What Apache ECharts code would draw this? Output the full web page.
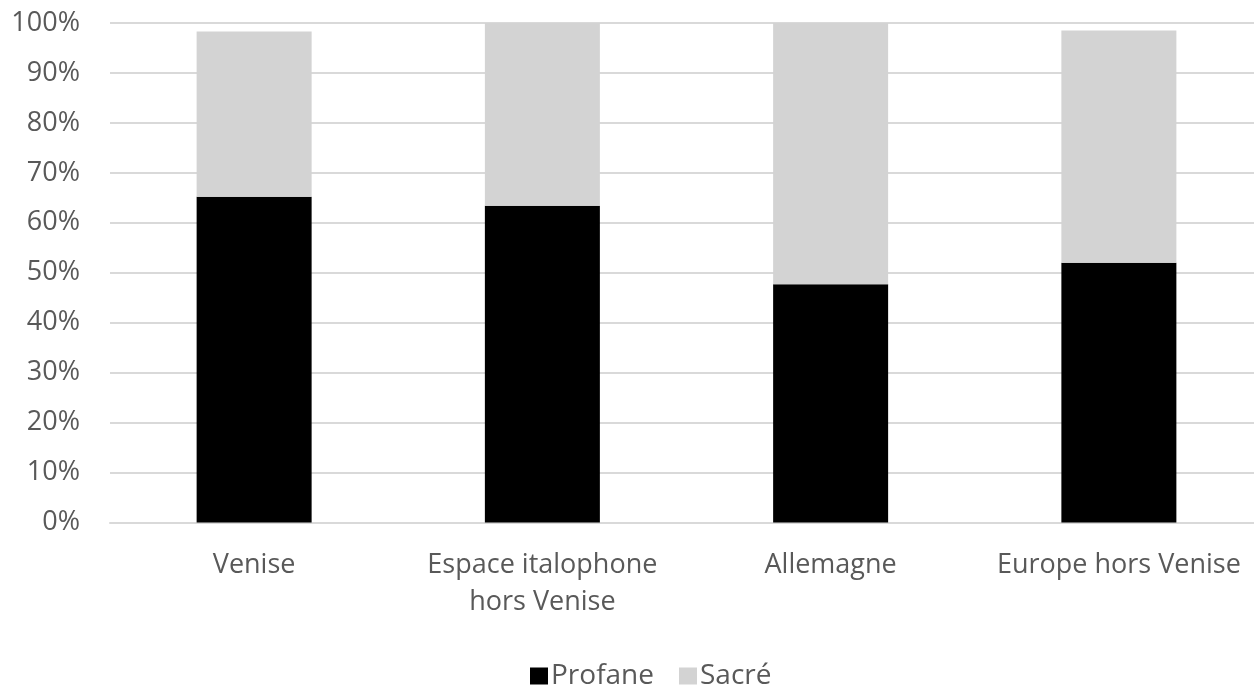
<!DOCTYPE html>
<html>
<head>
<meta charset="utf-8">
<script src="https://cdn.jsdelivr.net/npm/echarts@6/dist/echarts.min.js"></script>
<style>
html,body{margin:0;padding:0;background:#fff;}
#chart{width:1254px;height:686px;}
</style>
</head>
<body>
<div id="chart"></div>
<script>
const categories = ['Venise', 'Espace italophone\nhors Venise', 'Allemagne', 'Europe hors Venise'];
const profane = [65.2, 63.4, 47.7, 52.0];
const sacre = [33.1, 36.6, 52.3, 46.5];
const seriesNames = ['Profane', 'Sacré'];

const FONT = '"Open Sans", sans-serif';
const TXT = '#595959';

const chart = echarts.init(document.getElementById('chart'), null, {renderer: 'canvas'});
chart.setOption({
  animation: false,
  backgroundColor: '#ffffff',
  textStyle: {fontFamily: FONT},
  grid: {left: 110, top: 23, right: -9, bottom: 163.5, containLabel: false, outerBoundsMode: 'none'},
  legend: {
    data: seriesNames,
    left: 525,
    top: 657,
    itemWidth: 18,
    itemHeight: 17,
    itemGap: 25,
    icon: 'rect',
    textStyle: {fontFamily: FONT, fontSize: 28, color: TXT, padding: [0, 0, 0, -2]}
  },
  xAxis: {
    type: 'category',
    data: categories,
    axisLine: {show: true, lineStyle: {color: '#d9d9d9', width: 2}},
    axisTick: {show: false},
    axisLabel: {fontFamily: FONT, fontSize: 27, color: TXT, margin: 24, lineHeight: 37, interval: 0}
  },
  yAxis: {
    type: 'value',
    min: 0,
    max: 100,
    interval: 10,
    axisLine: {show: false},
    axisTick: {show: false},
    splitLine: {lineStyle: {color: '#d9d9d9', width: 2}},
    axisLabel: {fontFamily: FONT, fontSize: 27, color: TXT, margin: 30, formatter: '{value}%'}
  },
  series: [
    {name: seriesNames[0], type: 'bar', stack: 'total', data: profane, barWidth: 115,
     itemStyle: {color: '#000000'}},
    {name: seriesNames[1], type: 'bar', stack: 'total', data: sacre, barWidth: 115,
     itemStyle: {color: '#d3d3d3'}}
  ]
});
</script>
</body>
</html>
